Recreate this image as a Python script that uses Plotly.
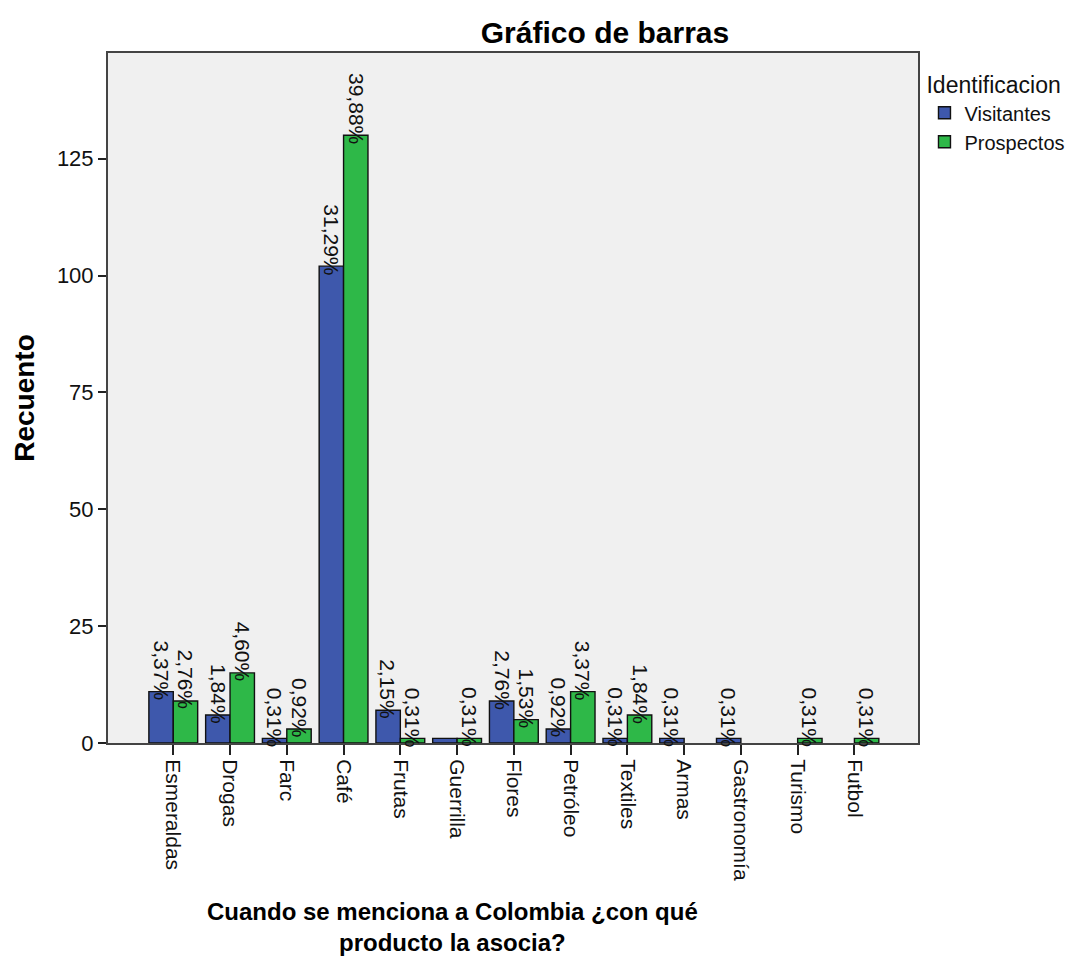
import plotly.graph_objects as go

# Product associated with Colombia, counts by respondent group
categorias = ["Esmeraldas", "Drogas", "Farc", "Café", "Frutas", "Guerrilla", "Flores",
              "Petróleo", "Textiles", "Armas", "Gastronomía", "Turismo", "Futbol"]
visitantes = [11, 6, 1, 102, 7, 1, 9, 3, 1, 1, 1, 0, 0]
prospectos = [9, 15, 3, 130, 1, 1, 5, 11, 6, 0, 0, 1, 1]
# bars whose percentage label is shown
mostrar_visitantes = [True, True, True, True, True, False, True, True, True, True, True, False, False]
mostrar_prospectos = [True, True, True, True, True, True, True, True, True, False, False, True, True]
ticks_y = [0, 25, 50, 75, 100, 125]

total = sum(visitantes) + sum(prospectos)
AZUL = "#3E58AC"
VERDE = "#2EB848"
FONT = "Arial, Liberation Sans, sans-serif"


def pct(v):
    return f"{v / total * 100:.2f}".replace(".", ",") + "%"


def sin_ceros(serie):
    # empty categories get no bar at all
    return [v if v > 0 else None for v in serie]


fig = go.Figure()
fig.add_trace(go.Bar(name="Visitantes", x=categorias, y=sin_ceros(visitantes),
                     marker=dict(color=AZUL, line=dict(color="#111", width=1.4))))
fig.add_trace(go.Bar(name="Prospectos", x=categorias, y=sin_ceros(prospectos),
                     marker=dict(color=VERDE, line=dict(color="#111", width=1.4))))

bargap = 0.14
half = (1 - bargap) / 4
annotations = []
for serie, mostrar, off in ((visitantes, mostrar_visitantes, -half),
                            (prospectos, mostrar_prospectos, half)):
    for i, (v, m) in enumerate(zip(serie, mostrar)):
        if v > 0 and m:
            annotations.append(dict(x=i + off, y=v, xref="x", yref="y", text=pct(v),
                                    textangle=90, showarrow=False, yanchor="bottom",
                                    xanchor="center", yshift=-11,
                                    font=dict(family=FONT, size=21, color="#111")))

# two-line horizontal axis title
annotations.append(dict(x=0.4247, y=-0.222, xref="paper", yref="paper",
                        text="<b>Cuando se menciona a Colombia ¿con qué<br>producto la asocia?</b>",
                        showarrow=False, xanchor="center", yanchor="top",
                        font=dict(family=FONT, size=24, color="#000")))

fig.update_layout(
    width=1085, height=958,
    margin=dict(l=108, r=167, t=53, b=215),
    paper_bgcolor="white", plot_bgcolor="#F0F0F0",
    barmode="group", bargap=bargap, bargroupgap=0,
    title=dict(text="<b>Gráfico de barras</b>", x=0.5576, xanchor="center",
               y=1 - 32 / 958, yanchor="middle", xref="container", yref="container",
               font=dict(family=FONT, size=30, color="#000")),
    legend=dict(title=dict(text="Identificacion", font=dict(family=FONT, size=23, color="#111")),
                font=dict(family=FONT, size=20, color="#111"),
                x=1.008, y=0.985, xanchor="left", yanchor="top",
                bgcolor="rgba(0,0,0,0)", tracegroupgap=0),
    annotations=annotations,
    showlegend=True,
)

fig.update_xaxes(range=[-1.15, 13.12], showline=True, linecolor="#444", linewidth=2, mirror=True,
                 ticks="outside", ticklen=10, tickwidth=1.5, tickcolor="#222",
                 tickangle=90, showgrid=False, zeroline=False,
                 tickfont=dict(family=FONT, size=21, color="#111"))
fig.update_yaxes(range=[0, 147.6], tickvals=ticks_y, showline=True, linecolor="#444", linewidth=2,
                 mirror=True, ticks="outside", ticklen=8, tickwidth=1.5, tickcolor="#222",
                 showgrid=False, zeroline=False,
                 tickfont=dict(family=FONT, size=22, color="#111"),
                 title=dict(text="<b>Recuento</b>", standoff=14,
                            font=dict(family=FONT, size=28, color="#000")))

fig.write_html("out.html")
